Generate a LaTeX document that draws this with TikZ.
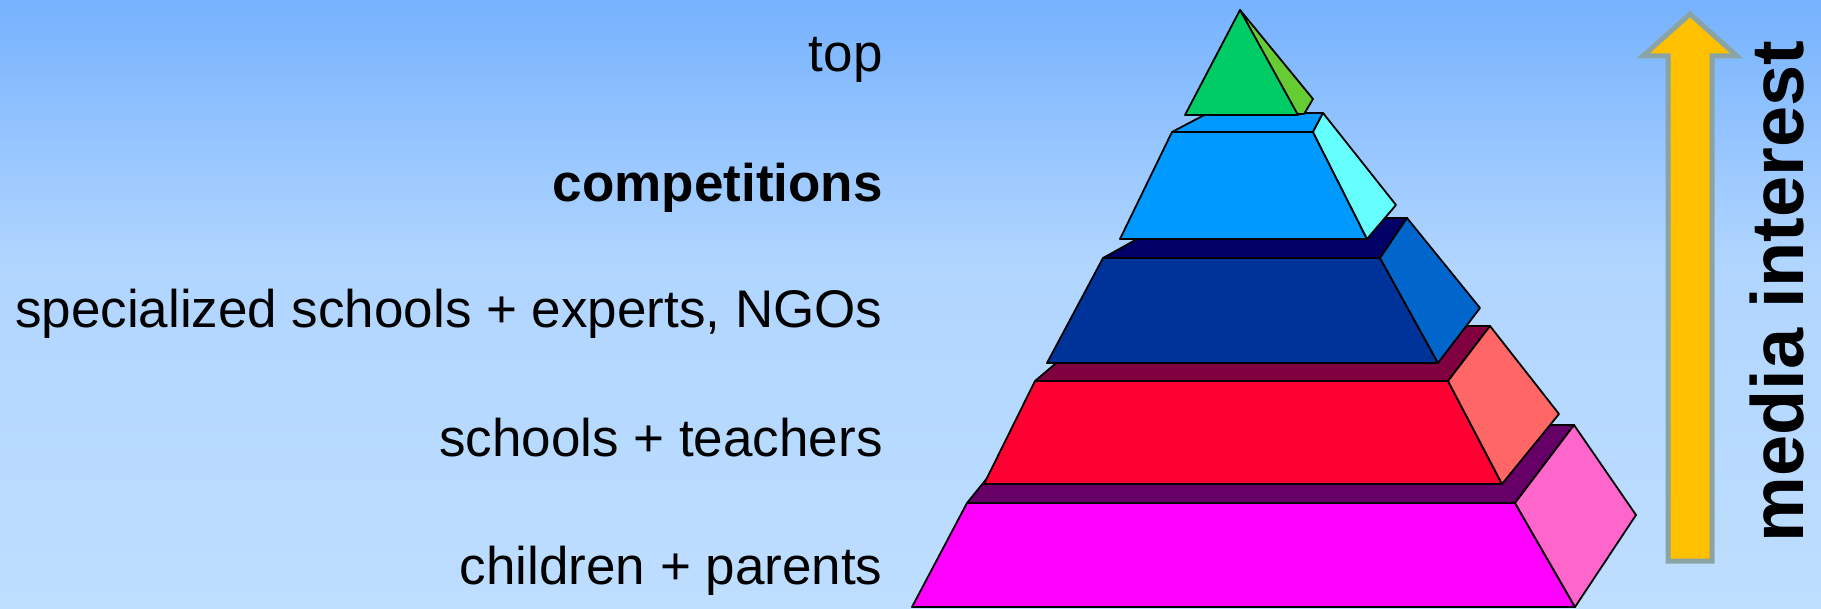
\documentclass[tikz,border=0pt]{standalone}
\usepackage{fontspec}
\setmainfont{Liberation Sans}
\definecolor{bgtop}{RGB}{118,178,254}
\definecolor{bgmid}{RGB}{176,213,255}
\definecolor{bgbot}{RGB}{190,222,255}
\definecolor{grnfront}{HTML}{00CC66}
\definecolor{grnside}{HTML}{66CC33}
\definecolor{bluefront}{HTML}{0099FF}
\definecolor{bluetop}{HTML}{0099FF}
\definecolor{blueside}{HTML}{66FFFF}
\definecolor{navyfront}{HTML}{003399}
\definecolor{navytop}{HTML}{000066}
\definecolor{navyside}{HTML}{0066CC}
\definecolor{redfront}{HTML}{FF0033}
\definecolor{redtop}{HTML}{800040}
\definecolor{redside}{HTML}{FF6666}
\definecolor{magfront}{HTML}{FF00FF}
\definecolor{magtop}{HTML}{660066}
\definecolor{magside}{HTML}{FF66CC}
\definecolor{arrowfill}{HTML}{FFC000}
\definecolor{arrowline}{RGB}{138,164,166}

\begin{document}
\begin{tikzpicture}[x=0.5pt,y=-0.5pt,
  face/.style={draw=black,line width=0.9pt,line join=round},
  lbl/.style={anchor=base east,inner sep=0pt,font=\fontsize{26.5}{30}\selectfont}]
  \useasboundingbox (0,0) rectangle (1821,609);
  \shade[top color=bgtop,bottom color=bgmid] (0,0) rectangle (1821,261);
  \shade[top color=bgmid,bottom color=bgbot] (0,260) rectangle (1821,609);

  % levels, from the top down
  \node[lbl] (lbltop) at (883,72) {top};
  \node[lbl] (lblcomp) at (883,202) {\bfseries competitions};
  \node[lbl] (lblspec) at (883,328) {specialized schools + experts, NGOs};
  \node[lbl] (lblschool) at (883,456) {schools + teachers};
  \node[lbl] (lblchild) at (883,584) {children + parents};

  % children + parents
  \filldraw[face,fill=magtop] (967,503) -- (1515,503) -- (1574,425) -- (1030,425) -- cycle;
  \filldraw[face,fill=magfront] (967,503) -- (1515,503) -- (1575,607) -- (912,607) -- cycle;
  \filldraw[face,fill=magside] (1515,503) -- (1574,425) -- (1636,515) -- (1575,607) -- cycle;

  % schools + teachers
  \filldraw[face,fill=redtop] (1035,381) -- (1448,381) -- (1490,326) -- (1100,326) -- cycle;
  \filldraw[face,fill=redfront] (1035,381) -- (1448,381) -- (1502,484) -- (984,484) -- cycle;
  \filldraw[face,fill=redside] (1448,381) -- (1490,326) -- (1559,414) -- (1502,484) -- cycle;

  % specialized schools
  \filldraw[face,fill=navytop] (1103,258) -- (1380,258) -- (1407,218) -- (1175,218) -- cycle;
  \filldraw[face,fill=navyfront] (1103,258) -- (1380,258) -- (1438,363) -- (1047,363) -- cycle;
  \filldraw[face,fill=navyside] (1380,258) -- (1407,218) -- (1480,308) -- (1438,363) -- cycle;

  % competitions
  \filldraw[face,fill=bluetop] (1172,132) -- (1313,132) -- (1323,113) -- (1208,113) -- cycle;
  \filldraw[face,fill=bluefront] (1172,132) -- (1313,132) -- (1367,239) -- (1120,239) -- cycle;
  \filldraw[face,fill=blueside] (1313,132) -- (1323,113) -- (1396,205) -- (1367,239) -- cycle;

  % top
  \filldraw[face,fill=grnside] (1240,10) -- (1313,99) -- (1304,114) -- (1296,114) -- cycle;
  \filldraw[face,fill=grnfront] (1240,10) -- (1298,115) -- (1185,115) -- cycle;

  % media interest
  \filldraw[fill=arrowfill,draw=arrowline,line width=2.5pt,line join=miter]
    (1690,14) -- (1737,56) -- (1712,56) -- (1712,561) -- (1668,561) -- (1668,56) -- (1643,56) -- cycle;
  \node[rotate=90,anchor=base west,inner sep=0pt,font=\fontsize{37}{40}\selectfont\bfseries] (lblmedia) at (1803,543) {media interest};
\end{tikzpicture}
\end{document}
